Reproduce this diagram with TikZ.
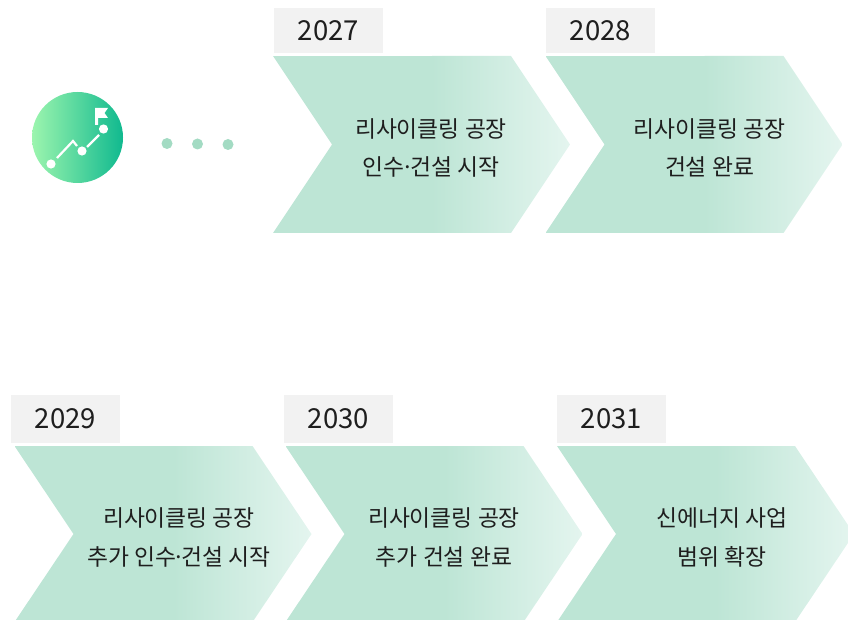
\documentclass[tikz,border=0pt]{standalone}
\usepackage{fontspec}
\setmainfont{Noto Sans CJK KR}
\definecolor{chevA}{HTML}{BDE5D5}
\definecolor{chevB}{HTML}{E4F5EF}
\definecolor{yearbg}{HTML}{F2F2F2}
\definecolor{ink}{HTML}{1E1E1E}
\definecolor{dotc}{HTML}{A3DBC3}
\definecolor{iconL}{HTML}{9CF5AE}
\definecolor{iconR}{HTML}{10B98F}
\tikzset{
  yearbox/.style={fill=yearbg,minimum width=109pt,inner sep=0pt,text=ink,font=\fontsize{27.5}{30}\selectfont},
  chevtext/.style={align=center,inner sep=0pt,text=ink,font=\fontsize{22.8}{38.5}\selectfont},
  whiteline/.style={draw=white,line width=2.2pt}
}
\newcommand{\middot}{\kern-0.16em·\kern-0.16em}
% #1 left x, #2 top y, #3 height
\newcommand{\chevshape}[3]{%
  \begin{scope}
    \clip (#1,#2) -- ({#1+238},#2) -- ({#1+297},{#2+#3/2}) -- ({#1+238},{#2+#3}) -- (#1,{#2+#3}) -- ({#1+59},{#2+#3/2}) -- cycle;
    \fill[chevA] (#1,#2) rectangle ({#1+160},{#2+#3});
    \shade[left color=chevA,right color=chevB] ({#1+159},#2) rectangle ({#1+297},{#2+#3});
  \end{scope}}
\begin{document}
\begin{tikzpicture}[x=1pt,y=-1pt]
\useasboundingbox (0,0) rectangle (848,620);
\clip (0,0) rectangle (848,620);
% icon
\shade[left color=iconL,right color=iconR] (77.5,137.5) circle (45.5);
\fill[white] (51,164) circle (4.6) (82,151) circle (4.6) (103.5,129) circle (4.6);
\draw[whiteline] (57,158) -- (73,141) -- (77,146);
\draw[whiteline] (87,147) -- (99,135);
\fill[white] (95,108) -- (108,108) -- (104.5,113) -- (108,118) -- (98,118) -- (98,125) -- (95,125) -- cycle;
% dots
\fill[dotc] (167,143.5) circle (5.5) (197.5,144) circle (5.5) (228,144.5) circle (5.5);
% chevrons
\chevshape{273}{56}{177}
\chevshape{545.5}{56}{177}
\chevshape{14.5}{446}{176}
\chevshape{285.5}{446}{176}
\chevshape{557}{446}{176}
% years
\node[yearbox,minimum height=45pt] (y27) at (328.5,30.5) {2027};
\node[yearbox,minimum height=45pt] (y28) at (600.5,30.5) {2028};
\node[yearbox,minimum height=48pt] (y29) at (65.5,419) {2029};
\node[yearbox,minimum height=48pt] (y30) at (338.5,419) {2030};
\node[yearbox,minimum height=48pt] (y31) at (611.5,419) {2031};
% labels
\node[chevtext] (t27) at (431,148) {리사이클링 공장\\인수\middot 건설 시작};
\node[chevtext] (t28) at (709.5,148) {리사이클링 공장\\건설 완료};
\node[chevtext] (t29) at (179,537.5) {리사이클링 공장\\추가 인수\middot 건설 시작};
\node[chevtext] (t30) at (444,537.5) {리사이클링 공장\\추가 건설 완료};
\node[chevtext] (t31) at (722,537.5) {신에너지 사업\\범위 확장};
\end{tikzpicture}
\end{document}
